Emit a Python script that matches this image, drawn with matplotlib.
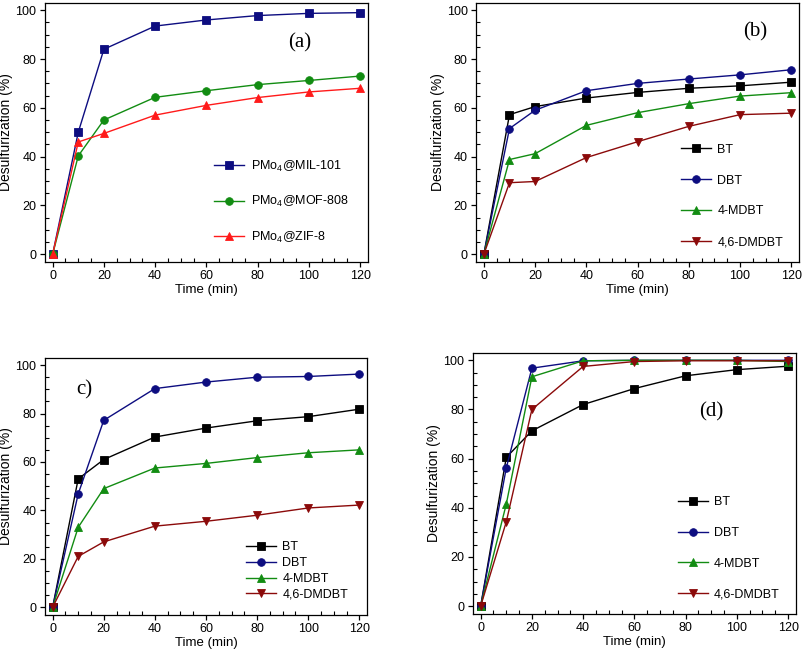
import numpy as np
import matplotlib.pyplot as plt
from matplotlib.ticker import MultipleLocator

plt.rcParams['font.family'] = ['Liberation Sans', 'DejaVu Sans']
plt.rcParams['font.size'] = 10
plt.rcParams['mathtext.fontset'] = 'custom'
plt.rcParams['mathtext.rm'] = 'Liberation Sans'

# Datos
t = [0, 10, 20, 40, 60, 80, 100, 120]

# (a) distintos soportes
mil101 = [0, 50, 84, 93.5, 96, 97.8, 98.7, 99]
mof808 = [0, 40.3, 55, 64.3, 67, 69.5, 71.2, 73]
zif8 = [0, 46, 49.5, 57, 61, 64.2, 66.5, 68]

# (b)
bt_b = [0, 57.2, 60.5, 64, 66.3, 68, 69, 70.5]
dbt_b = [0, 51.5, 59, 67, 70, 71.8, 73.5, 75.6]
mdbt_b = [0, 38.8, 41.2, 52.8, 58, 61.7, 64.8, 66.2]
dmdbt_b = [0, 29.3, 29.8, 39.6, 46.1, 52.4, 57.2, 57.8]

# (c)
bt_c = [0, 53, 61, 70.3, 74, 77, 78.7, 81.8]
dbt_c = [0, 46.8, 77.2, 90.3, 93, 95, 95.3, 96.3]
mdbt_c = [0, 33, 49, 57.5, 59.4, 61.8, 63.8, 65]
dmdbt_c = [0, 21, 27, 33.5, 35.5, 38, 41, 42.2]

# (d)
bt_d = [0, 60.5, 71.3, 82, 88.5, 93.7, 96.2, 97.6]
dbt_d = [0, 56.2, 96.8, 99.8, 100, 100, 100, 100]
mdbt_d = [0, 41.5, 93.3, 99.8, 100, 100, 100, 99.5]
dmdbt_d = [0, 34.3, 80, 97.5, 99.5, 99.8, 99.8, 99.8]

labels_a = [r'PMo$_4$@MIL-101', r'PMo$_4$@MOF-808', r'PMo$_4$@ZIF-8']
labels_s = ['BT', 'DBT', '4-MDBT', '4,6-DMDBT']

navy = '#0d0d80'
green = '#128c12'
red = '#ff1a1a'
dred = '#8b0a0a'


def style_ax(ax):
    ax.set_xlim(-3, 123)
    ax.set_ylim(-3.2, 103)
    ax.xaxis.set_major_locator(MultipleLocator(20))
    ax.xaxis.set_minor_locator(MultipleLocator(5))
    ax.yaxis.set_major_locator(MultipleLocator(20))
    ax.yaxis.set_minor_locator(MultipleLocator(5))
    ax.tick_params(which='major', direction='out', length=3.6, width=0.9, labelsize=9, pad=2.5)
    ax.tick_params(which='minor', direction='in', length=3, width=0.8)
    ax.set_xlabel('Time (min)', fontsize=9.5, labelpad=1)
    ax.set_ylabel('Desulfurization (%)', fontsize=10, labelpad=1.5)
    for s in ax.spines.values():
        s.set_linewidth(0.9)


def draw(ax, series, colors, markers, labels):
    for y, c, m, lab in zip(series, colors, markers, labels):
        ax.plot(t, y, marker=m, color=c, lw=1.0, ms=5.5, mec=c, mew=0.6, label=lab)


fig = plt.figure(figsize=(8.03, 6.56), dpi=100)
ax_a = fig.add_axes([0.056, 0.6006, 0.402, 0.395])
ax_b = fig.add_axes([0.593, 0.6006, 0.402, 0.395])
ax_c = fig.add_axes([0.056, 0.0625, 0.401, 0.392])
ax_d = fig.add_axes([0.589, 0.064, 0.402, 0.398])

# (a)
draw(ax_a, [mil101, mof808, zif8], [navy, green, red], ['s', 'o', '^'], labels_a)
style_ax(ax_a)
ax_a.legend(loc='upper left', bbox_to_anchor=(0.49, 0.443), frameon=False,
            handlelength=2.4, handletextpad=0.5, labelspacing=1.63, fontsize=9)
ax_a.text(96.5, 86.5, '(a)', family='Liberation Serif', fontsize=15, ha='center', va='center')

cols4 = ['black', navy, green, dred]
mk4 = ['s', 'o', '^', 'v']

# (b)
draw(ax_b, [bt_b, dbt_b, mdbt_b, dmdbt_b], cols4, mk4, labels_s)
style_ax(ax_b)
ax_b.legend(loc='upper left', bbox_to_anchor=(0.6, 0.50), frameon=False,
            handlelength=2.4, handletextpad=0.5, labelspacing=1.51, fontsize=9)
ax_b.text(106, 91, '(b)', family='Liberation Serif', fontsize=15, ha='center', va='center')

# (c)
draw(ax_c, [bt_c, dbt_c, mdbt_c, dmdbt_c], cols4, mk4, labels_s)
style_ax(ax_c)
ax_c.legend(loc='upper left', bbox_to_anchor=(0.59, 0.33), frameon=False,
            handlelength=2.4, handletextpad=0.5, labelspacing=0.3, fontsize=9)
ax_c.text(12.5, 89.7, 'c)', family='Liberation Serif', fontsize=15, ha='center', va='center')

# (d)
draw(ax_d, [bt_d, dbt_d, mdbt_d, dmdbt_d], cols4, mk4, labels_s)
style_ax(ax_d)
ax_d.legend(loc='upper left', bbox_to_anchor=(0.6, 0.495), frameon=False,
            handlelength=2.4, handletextpad=0.5, labelspacing=1.51, fontsize=9)
ax_d.text(90, 79, '(d)', family='Liberation Serif', fontsize=15, ha='center', va='center')

plt.savefig('out.png', dpi=100)
